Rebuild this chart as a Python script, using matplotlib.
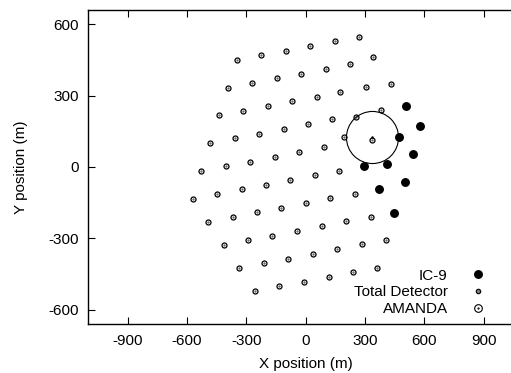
import matplotlib
matplotlib.use("Agg")
from matplotlib import pyplot as plt
from matplotlib.lines import Line2D

plt.rcParams['font.family'] = ['Liberation Sans', 'DejaVu Sans']
plt.rcParams['axes.unicode_minus'] = False

# string positions of the full detector (m)
det_x = [-347, -225, -101, 23, 147, 270,
         -393, -270, -145, -22, 101, 226, 339,
         -437, -316, -191, -68, 56, 175, 303, 430,
         -482, -359, -235, -111, 13, 133, 256, 382, 506,
         -528, -403, -280, -155, -32, 91, 195, 334, 473, 578,
         -571, -447, -324, -201, -78, 47, 170, 293, 411, 544,
         -493, -369, -246, -123, 2, 124, 249, 372, 501,
         -415, -290, -169, -43, 81, 205, 329, 445,
         -336, -212, -88, 35, 160, 283, 406,
         -256, -134, -9, 116, 239, 362]
det_y = [450, 470, 489, 509, 529, 548,
         333, 353, 373, 392, 412, 432, 464,
         217, 237, 257, 276, 296, 315, 335, 350,
         100, 121, 140, 160, 180, 202, 209, 238, 257,
         -17, 3, 22, 43, 62, 83, 125, 112, 127, 171,
         -133, -114, -94, -74, -55, -35, -16, 6, 13, 56,
         -231, -212, -191, -171, -151, -132, -112, -93, -61,
         -328, -308, -289, -269, -249, -228, -209, -193,
         -425, -405, -386, -365, -345, -325, -307,
         -523, -502, -482, -463, -443, -423]

# IC-9 strings (m)
ic9_x = [506, 473, 578, 293, 411, 544, 372, 501, 445]
ic9_y = [257, 127, 171, 6, 13, 56, -93, -61, -193]

# AMANDA centre (m)
amanda_x = [333]
amanda_y = [128]

xticks = [-900, -600, -300, 0, 300, 600, 900]
yticks = [-600, -300, 0, 300, 600]

fig = plt.figure(figsize=(5.11, 3.73), dpi=100)
ax = fig.add_axes([0.1722, 0.1314, 0.8519, 0.8418])

ax.plot(det_x, det_y, 'o', ms=3.6, mfc='none', mec='black', mew=0.9, ls='none')
ax.plot(det_x, det_y, '.', ms=1.2, color='0.35', ls='none')
ax.plot(ic9_x, ic9_y, 'o', ms=5.4, mfc='black', mec='black', ls='none')
ax.plot(amanda_x, amanda_y, 'o', ms=37.5, mfc='none', mec='black', mew=0.8, ls='none')
ax.plot(amanda_x, amanda_y, '.', ms=1.5, color='black', ls='none')

ax.set_xlim(-1100, 1100)
ax.set_ylim(-660, 660)
ax.set_xticks(xticks)
ax.set_yticks(yticks)
ax.tick_params(direction='in', length=5, width=0.8, top=True, right=True,
               labelsize=11)
ax.tick_params(axis='x', pad=7)
ax.tick_params(axis='y', pad=6.5)
for s in ax.spines.values():
    s.set_linewidth(1.0)

ax.set_xlabel('X position (m)', fontsize=11, labelpad=7)
ax.set_ylabel('Y position (m)', fontsize=11, labelpad=15)

amanda_handle = (
    Line2D([], [], marker='o', ms=5.5, mfc='none', mec='black', mew=0.8, ls='none'),
    Line2D([], [], marker='.', ms=1.2, color='black', ls='none'),
)
handles = [
    Line2D([], [], marker='o', ms=5.4, color='black', ls='none'),
    Line2D([], [], marker='o', ms=3.2, mfc='0.5', mec='black', mew=0.8, ls='none'),
    amanda_handle,
]
leg = ax.legend(handles, ['IC-9', 'Total Detector', 'AMANDA'], markerfirst=False,
                frameon=False, loc='lower right', fontsize=11,
                bbox_to_anchor=(486 / 511, (373 - 316) / 373),
                bbox_transform=fig.transFigure, borderaxespad=0, borderpad=0,
                handletextpad=1.5, labelspacing=0.17, handlelength=1.0)

fig.savefig('out.png', dpi=100)
